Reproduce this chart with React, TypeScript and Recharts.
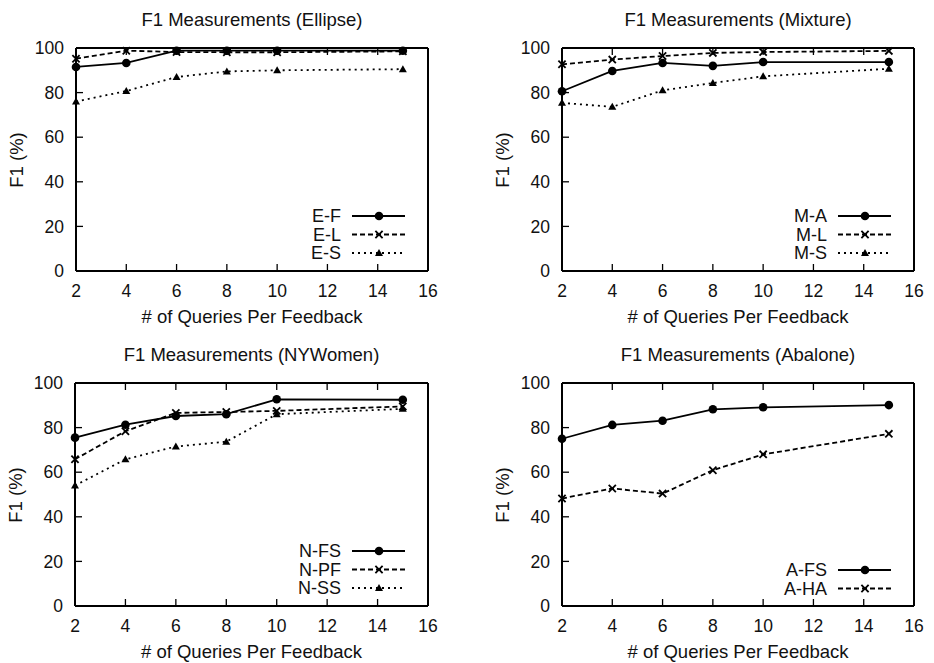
import React from 'react';
import { LineChart, Line, XAxis, YAxis, Legend } from 'recharts';

const FONT = '"Liberation Sans", Arial, Helvetica, sans-serif';

// queries per feedback
const queries = [2, 4, 6, 8, 10, 15];
const xTicks = [2, 4, 6, 8, 10, 12, 14, 16];
const yTicks = [0, 20, 40, 60, 80, 100];

const ellipseF = [91.5, 93.3, 98.8, 98.8, 98.8, 98.8];
const ellipseL = [95.2, 98.8, 98.2, 98.1, 98.1, 98.5];
const ellipseS = [76, 80.7, 87, 89.5, 90, 90.5];

const mixtureA = [80.6, 89.7, 93.3, 92, 93.7, 93.7];
const mixtureL = [92.7, 94.8, 96.4, 97.8, 98.2, 98.7];
const mixtureS = [75.4, 73.6, 81, 84.3, 87.3, 90.7];

const nyFS = [75.5, 81.3, 85.2, 86, 92.7, 92.5];
const nyPF = [65.8, 78.4, 86.6, 87, 87.5, 89.5];
const nySS = [54, 65.8, 71.5, 73.7, 86, 88.4];

const abaloneFS = [75, 81.2, 83.1, 88.2, 89.1, 90.1];
const abaloneHA = [48.2, 52.7, 50.4, 60.9, 68, 77.2];

type Marker = 'circle' | 'cross' | 'triangle';
type Series = { name: string; values: number[]; dash?: string; marker: Marker };
type Plot = { left: number; right: number; top: number; bottom: number };

const DASH = '5 3';
const DOT = '2 4';
const AXIS = { stroke: '#000', strokeWidth: 2 };
const TICK = { stroke: '#000', strokeWidth: 1.3 };

const drawMarker = (kind: Marker, cx: number, cy: number, key?: React.Key) => {
  if (kind === 'circle') return <circle key={key} cx={cx} cy={cy} r={4.3} fill="#000" />;
  if (kind === 'cross')
    return (
      <g key={key} stroke="#000" strokeWidth={1.8}>
        <line x1={cx - 3.6} y1={cy - 3.6} x2={cx + 3.6} y2={cy + 3.6} />
        <line x1={cx - 3.6} y1={cy + 3.6} x2={cx + 3.6} y2={cy - 3.6} />
      </g>
    );
  return <path key={key} d={`M${cx},${cy - 4}L${cx + 4},${cy + 3}L${cx - 4},${cy + 3}Z`} fill="#000" />;
};

const LegendBox = ({ series, payload }: { series: Series[]; payload?: any[] }) => {
  const rowGap = 18.5;
  const h = rowGap * series.length + 4;
  return (
    <svg width={150} height={h} style={{ display: 'block', overflow: 'visible' }}>
      {series.map((s, i) => {
        const entry = payload?.find((p) => p.value === s.name);
        const y = 10 + i * rowGap;
        return (
          <g key={s.name}>
            <text x={63} y={y} dy="0.36em" textAnchor="end" fontSize={18} fontFamily={FONT} fill="#111">
              {entry ? entry.value : s.name}
            </text>
            <line x1={74} x2={127} y1={y} y2={y} stroke="#000" strokeWidth={1.8} strokeDasharray={s.dash} />
            {drawMarker(s.marker, 101, y)}
          </g>
        );
      })}
    </svg>
  );
};

const Panel = ({
  title,
  series,
  x,
  y,
  height,
  plot,
}: {
  title: string;
  series: Series[];
  x: number;
  y: number;
  height: number;
  plot: Plot;
}) => {
  const width = 467;
  const data = queries.map((q, i) => {
    const row: any = { q };
    series.forEach((s) => (row[s.name] = s.values[i]));
    return row;
  });
  const tickStyle = { fill: '#111', fontSize: 17.5, fontFamily: FONT };
  const legendTop = plot.bottom - 18 - 18.5 * (series.length - 1) - 10;
  const label = {
    position: 'absolute' as const,
    height: 22,
    lineHeight: '22px',
    textAlign: 'center' as const,
    fontSize: 18.5,
    whiteSpace: 'nowrap' as const,
  };

  return (
    <div style={{ position: 'absolute', left: x, top: y, width, height, fontFamily: FONT, color: '#111' }}>
      <div style={{ ...label, left: plot.left, width: plot.right - plot.left, top: plot.top - 39 }}>{title}</div>
      <div style={{ ...label, left: plot.left, width: plot.right - plot.left, top: plot.bottom + 35 }}>
        # of Queries Per Feedback
      </div>
      <div
        style={{
          ...label,
          left: plot.left - 59,
          top: (plot.top + plot.bottom) / 2,
          transform: 'translate(-50%, -50%) rotate(-90deg)',
        }}
      >
        F1 (%)
      </div>
      <LineChart
        width={width}
        height={height}
        data={data}
        margin={{ top: plot.top - 1, right: width - plot.right - 1, bottom: height - plot.bottom - 30, left: 0 }}
      >
        <XAxis
          xAxisId="b"
          dataKey="q"
          type="number"
          domain={[2, 16]}
          ticks={xTicks}
          interval={0}
          height={30}
          tickSize={-7}
          tickMargin={21}
          tick={tickStyle}
          axisLine={AXIS}
          tickLine={TICK}
        />
        <XAxis
          xAxisId="t"
          orientation="top"
          dataKey="q"
          type="number"
          domain={[2, 16]}
          ticks={xTicks}
          interval={0}
          height={1}
          tickSize={-7}
          tickFormatter={() => ''}
          axisLine={AXIS}
          tickLine={TICK}
        />
        <YAxis
          yAxisId="l"
          type="number"
          domain={[0, 100]}
          ticks={yTicks}
          interval={0}
          width={plot.left}
          tickSize={-7}
          tickMargin={19}
          tick={tickStyle}
          axisLine={AXIS}
          tickLine={TICK}
        />
        <YAxis
          yAxisId="r"
          orientation="right"
          type="number"
          domain={[0, 100]}
          ticks={yTicks}
          interval={0}
          width={1}
          tickSize={-7}
          tickFormatter={() => ''}
          axisLine={AXIS}
          tickLine={TICK}
        />
        {series.map((s) => (
          <Line
            key={s.name}
            xAxisId="b"
            yAxisId="l"
            dataKey={s.name}
            name={s.name}
            type="linear"
            stroke="#000"
            strokeWidth={1.8}
            strokeDasharray={s.dash}
            isAnimationActive={false}
            activeDot={false}
            dot={(p: any) => drawMarker(s.marker, p.cx, p.cy, `${s.name}-${p.index}`)}
          />
        ))}
        <Legend
          layout="horizontal"
          verticalAlign="middle"
          align="center"
          wrapperStyle={{ left: plot.right - 150, top: legendTop, width: 150 }}
          content={(props: any) => <LegendBox series={series} payload={props.payload} />}
        />
      </LineChart>
    </div>
  );
};

const App = () => {
  const ellipse: Series[] = [
    { name: 'E-F', values: ellipseF, marker: 'circle' },
    { name: 'E-L', values: ellipseL, dash: DASH, marker: 'cross' },
    { name: 'E-S', values: ellipseS, dash: DOT, marker: 'triangle' },
  ];
  const mixture: Series[] = [
    { name: 'M-A', values: mixtureA, marker: 'circle' },
    { name: 'M-L', values: mixtureL, dash: DASH, marker: 'cross' },
    { name: 'M-S', values: mixtureS, dash: DOT, marker: 'triangle' },
  ];
  const nywomen: Series[] = [
    { name: 'N-FS', values: nyFS, marker: 'circle' },
    { name: 'N-PF', values: nyPF, dash: DASH, marker: 'cross' },
    { name: 'N-SS', values: nySS, dash: DOT, marker: 'triangle' },
  ];
  const abalone: Series[] = [
    { name: 'A-FS', values: abaloneFS, marker: 'circle' },
    { name: 'A-HA', values: abaloneHA, dash: DASH, marker: 'cross' },
  ];

  return (
    <div style={{ position: 'absolute', left: 0, top: 0, width: 934, height: 663, background: '#fff' }}>
      <Panel title="F1 Measurements (Ellipse)" series={ellipse} x={0} y={0} height={330}
        plot={{ left: 76, right: 428, top: 48, bottom: 271 }} />
      <Panel title="F1 Measurements (Mixture)" series={mixture} x={467} y={0} height={330}
        plot={{ left: 95, right: 447, top: 48, bottom: 271 }} />
      <Panel title="F1 Measurements (NYWomen)" series={nywomen} x={0} y={330} height={333}
        plot={{ left: 75, right: 428, top: 53, bottom: 276 }} />
      <Panel title="F1 Measurements (Abalone)" series={abalone} x={467} y={330} height={333}
        plot={{ left: 95, right: 447, top: 53, bottom: 276 }} />
    </div>
  );
};

export default App;
